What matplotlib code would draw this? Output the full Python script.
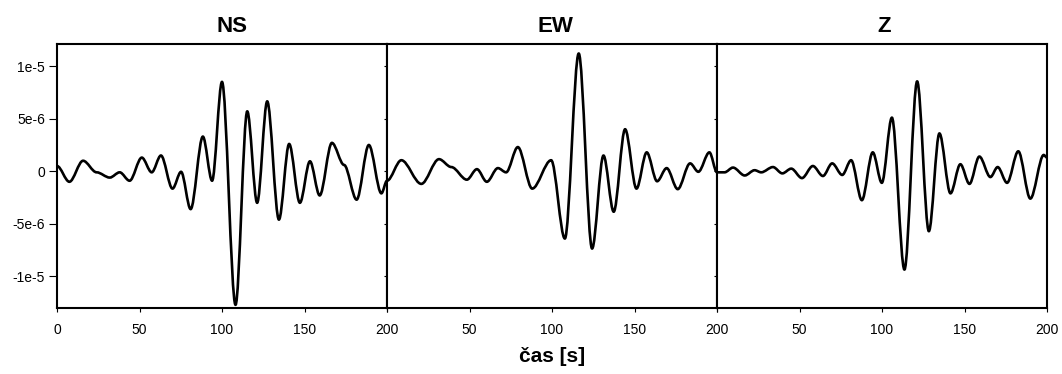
import numpy as np
import matplotlib as mpl
mpl.use('Agg')
import matplotlib.pyplot as plt
from matplotlib.path import Path
from matplotlib.patches import PathPatch

plt.rcParams['font.family'] = ['Liberation Sans', 'DejaVu Sans']

# extrema: time [s], displacement [1e-6]
ns_t = [0, 7.5, 15.8, 24, 32, 38, 44, 51.4, 57.4, 63, 70, 75.2, 81, 88.4, 94, 100, 108.2,
        115.3, 121.3, 127.4, 134.5, 140.7, 147.2, 153.3, 159.2, 166.6, 174, 181.6, 189, 196.6, 200]
ns_v = [0.5, -1.0, 1.0, -0.1, -0.6, -0.1, -0.9, 1.3, -0.1, 1.5, -1.65, -0.05, -3.6, 3.3, -0.9, 8.5, -12.7,
        5.7, -3.0, 6.65, -4.6, 2.6, -3.0, 0.95, -2.3, 2.7, 0.6, -2.7, 2.5, -2.1, -0.9]

ew_t = [0, 8.7, 20.8, 31.5, 39, 48.4, 54.5, 60.5, 67.2, 72.2, 79.3, 88, 99.5, 107.8, 116.2, 124.3,
        131.2, 137.4, 144.3, 151.2, 157.4, 163.7, 169.5, 176.2, 183.7, 188.7, 195.4, 200]
ew_v = [-0.9, 1.05, -1.2, 1.15, 0.4, -0.8, 0.2, -1.0, 0.3, -0.1, 2.3, -1.65, 1.05, -6.4, 11.2, -7.35,
        1.5, -3.85, 4.0, -1.65, 1.8, -0.95, 0.3, -1.7, 0.75, -0.05, 1.8, -0.1]

z_t = [0, 4.6, 9.7, 16.8, 22.8, 26.8, 33.9, 39.6, 45, 51.5, 58.1, 64.2, 69.8, 75.9, 81.3, 87.8, 94.4,
       99.9, 106, 113.6, 121.3, 128.4, 134.8, 141.5, 147.5, 153, 159, 165.7, 170.1, 175.8, 182.6,
       189.9, 198, 200]
z_v = [-0.1, -0.1, 0.35, -0.4, 0.1, -0.1, 0.4, -0.2, 0.25, -0.65, 0.5, -0.45, 0.75, -0.35, 1.05, -2.75, 1.8,
       -1.1, 5.1, -9.35, 8.55, -5.7, 3.6, -2.1, 0.67, -1.2, 1.4, -0.55, 0.4, -1.1, 1.9,
       -2.6, 1.55, 1.3]

titles = ['NS', 'EW', 'Z']
title_x = [0.53, 0.51, 0.505]
series = [(ns_t, ns_v), (ew_t, ew_v), (z_t, z_v)]
yticks = [1e-5, 5e-6, 0, -5e-6, -1e-5]
ylabels = ['1e-5', '5e-6', '0', '-5e-6', '-1e-5']
xticks = [0, 50, 100, 150, 200]


def wave_path(t, v):
    # smooth curve through extrema (flat tangent at each read point)
    v = [x * 1e-6 for x in v]
    verts = [(t[0], v[0])]
    codes = [Path.MOVETO]
    for i in range(1, len(t)):
        dt = t[i] - t[i - 1]
        verts += [(t[i - 1] + dt / 3, v[i - 1]), (t[i] - dt / 3, v[i]), (t[i], v[i])]
        codes += [Path.CURVE4] * 3
    return Path(verts, codes)


fig = plt.figure(figsize=(10.62, 3.74), dpi=100)
left, w, bottom, h = 57 / 1062, 330 / 1062, 66 / 374, 264 / 374

for i in range(3):
    ax = fig.add_axes([left + i * w, bottom, w, h])
    t, v = series[i]
    ax.add_patch(PathPatch(wave_path(t, v), fill=False, lw=1.9, color='black',
                           capstyle='round', joinstyle='round'))
    ax.set_xlim(0, 200)
    ax.set_ylim(-1.3e-5, 1.21e-5)
    ax.set_xticks(xticks)
    if i == 0:
        ax.set_xticklabels([str(x) for x in xticks])
        ax.set_yticks(yticks)
        ax.set_yticklabels(ylabels)
        ax.tick_params(axis='y', length=5.5, width=0.8, pad=3, labelsize=10)
    else:
        ax.set_xticklabels([''] + [str(x) for x in xticks[1:]])
        ax.set_yticks(yticks)
        ax.set_yticklabels([])
        ax.tick_params(axis='y', length=2.5, width=0.8)
    ax.tick_params(axis='x', length=3, width=0.8, pad=8, labelsize=10)
    for s in ax.spines.values():
        s.set_linewidth(1.5)
    ttl = ax.set_title(titles[i], fontsize=16, fontweight='bold', pad=8.5)
    ttl.set_x(title_x[i])

fig.text(552 / 1062, 12 / 374, 'čas [s]', ha='center', va='baseline',
         fontsize=15, fontweight='bold')

plt.savefig('out.png', dpi=100)
